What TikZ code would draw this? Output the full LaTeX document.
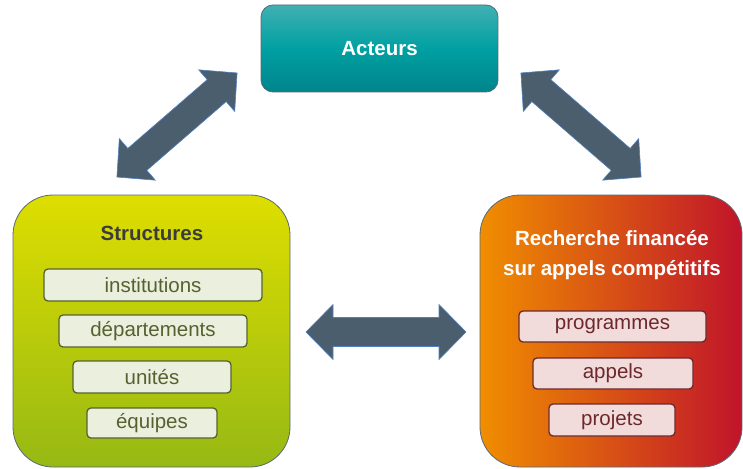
\documentclass[tikz,border=0pt]{standalone}
\usepackage{fontspec}
\setmainfont{Liberation Sans}
\definecolor{tealtop}{RGB}{64,176,178}
\definecolor{tealmid}{RGB}{0,160,162}
\definecolor{tealbot}{RGB}{0,132,140}
\definecolor{yeltop}{RGB}{222,222,0}
\definecolor{yelbot}{RGB}{150,185,20}
\definecolor{orleft}{RGB}{240,142,0}
\definecolor{orright}{RGB}{192,20,42}
\definecolor{boxedge}{RGB}{90,104,120}
\definecolor{olivefill}{RGB}{235,239,222}
\definecolor{oliveline}{RGB}{85,98,48}
\definecolor{pinkfill}{RGB}{242,220,219}
\definecolor{maroon}{RGB}{108,40,44}
\definecolor{arrowfill}{RGB}{75,94,110}
\definecolor{arrowedge}{RGB}{80,128,190}
\definecolor{titlegray}{RGB}{60,60,60}
\tikzset{
  bigbox/.style={draw=boxedge, line width=0.8pt},
  olivebox/.style={draw=oliveline, fill=olivefill, line width=1.3pt, rounded corners=4pt,
     text=oliveline, font=\fontsize{20.5}{24}\selectfont, inner sep=0pt},
  pinkbox/.style={draw=maroon, fill=pinkfill, line width=1.3pt, rounded corners=4pt,
     text=maroon, font=\fontsize{20.5}{24}\selectfont, inner sep=0pt},
  bigarrow/.style={fill=arrowfill, draw=arrowedge, line width=0.6pt, line join=miter}
}
\newcommand\bigdbl[4]{%
  \begin{scope}[shift={(#1,#2)},rotate=#3]
    \pgfmathsetmacro\hl{#4/2}
    \pgfmathsetmacro\hb{#4/2-27}
    \path[bigarrow] (-\hl,0) -- (-\hb,27.5) -- (-\hb,14.5) -- (\hb,14.5) -- (\hb,27.5)
      -- (\hl,0) -- (\hb,-27.5) -- (\hb,-14.5) -- (-\hb,-14.5) -- (-\hb,-27.5) -- cycle;
  \end{scope}}
\begin{document}
\begin{tikzpicture}[x=1pt,y=-1pt]
\useasboundingbox (0,0) rectangle (743,468);
% Acteurs
\node[bigbox, rounded corners=12pt, minimum width=237pt, minimum height=87pt,
  top color=tealtop, bottom color=tealbot, middle color=tealmid,
  text=white, font=\bfseries\fontsize{20.5}{24}\selectfont] (act) at (379.5,48.5) {Acteurs};
% Structures
\node[bigbox, rounded corners=40pt, minimum width=277pt, minimum height=272pt,
  top color=yeltop, bottom color=yelbot] (str) at (151.5,331) {};
\node[text=titlegray, font=\bfseries\fontsize{20.5}{24}\selectfont] (strt) at (152,233) {Structures};
\node[olivebox, minimum width=218pt, minimum height=32pt] (inst) at (153,285) {institutions};
\node[olivebox, minimum width=188pt, minimum height=32pt] (dep) at (153,331) {départements};
\node[olivebox, minimum width=158pt, minimum height=32pt] (uni) at (152,377) {unités};
\node[olivebox, minimum width=130pt, minimum height=30pt] (equ) at (152,423) {équipes};
% Recherche
\node[bigbox, rounded corners=40pt, minimum width=262pt, minimum height=272pt,
  left color=orleft, right color=orright] (rec) at (611,331) {};
\node[text=white, align=center, font=\bfseries\fontsize{20.5}{30}\selectfont] (rect) at (612,255)
  {Recherche financée\\sur appels compétitifs};
\node[pinkbox, minimum width=187pt, minimum height=31pt] (prog) at (612.5,326.5) {programmes};
\node[pinkbox, minimum width=160pt, minimum height=31pt] (app) at (613,373.5) {appels};
\node[pinkbox, minimum width=126pt, minimum height=32pt] (proj) at (612,420) {projets};
% arrows
\bigdbl{177}{125}{40.9}{159}
\bigdbl{581}{125}{-40.9}{159}
\bigdbl{386}{332}{0}{160}
\end{tikzpicture}
\end{document}
